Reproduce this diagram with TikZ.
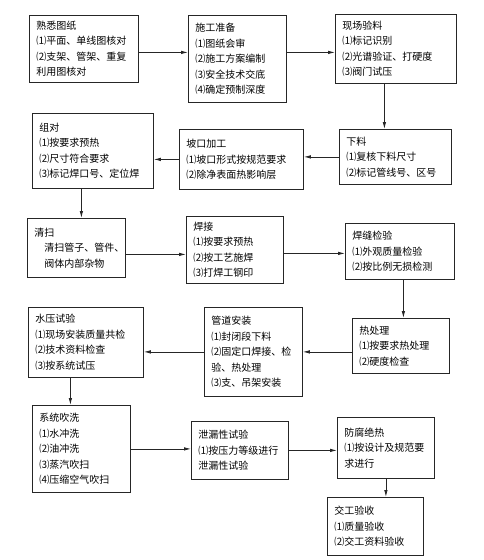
\documentclass[tikz,border=0pt]{standalone}
\usepackage{fontspec}
\newfontfamily\cjk{Noto Sans CJK SC}
\usetikzlibrary{arrows.meta,calc}

\begin{document}
\begin{tikzpicture}[x=1pt, y=-1pt]
        \tikzstyle{stepbox}=[draw=black!85, line width=0.8pt, rectangle, anchor=north west, inner xsep=7pt, inner ysep=0pt, align=left, font=\cjk\fontsize{10}{15.5}\selectfont]
        \tikzstyle{flow}=[draw=black!85, line width=0.8pt, -{Latex[length=7pt,width=3.5pt]}]
        \useasboundingbox[fill=white] (0,0) rectangle (484,560);

% The piping work flow, read row by row.

        \node[stepbox, text width=95pt, minimum height=67pt] (shuxi) at (29,15) {熟悉图纸\\⑴平面、单线图核对\\⑵支架、管架、重复\\利用图核对};
        \node[stepbox, text width=84pt, minimum height=87pt] (shigong) at (188,15) {施工准备\\⑴图纸会审\\⑵施工方案编制\\⑶安全技术交底\\⑷确定预制深度};
        \node[stepbox, text width=107pt, minimum height=69pt] (xianchang) at (335,14) {现场验料\\⑴标记识别\\⑵光谱验证、打硬度\\⑶阀门试压};

        \node[stepbox, text width=107pt, minimum height=75pt] (zudui) at (32,113) {组对\\⑴按要求预热\\⑵尺寸符合要求\\⑶标记焊口号、定位焊};
        \node[stepbox, text width=110pt, minimum height=60pt] (pokou) at (179,129) {坡口加工\\⑴坡口形式按规范要求\\⑵除净表面热影响层};
        \node[stepbox, text width=98pt, minimum height=55pt] (xialiao) at (339,129) {下料\\⑴复核下料尺寸\\⑵标记管线号、区号};

        \node[stepbox, text width=84pt, minimum height=59pt] (qingsao) at (27,218) {清扫\\\hspace*{10pt}清扫管子、管件、\\\hspace*{10pt}阀体内部杂物};
        \node[stepbox, text width=83pt, minimum height=67pt] (hanjie) at (186,216) {焊接\\⑴按要求预热\\⑵按工艺施焊\\⑶打焊工钢印};
        \node[stepbox, text width=95pt, minimum height=56pt] (hanfeng) at (345,223) {焊缝检验\\⑴外观质量检验\\⑵按比例无损检测};

        \node[stepbox, text width=101pt, minimum height=70pt] (shuiya) at (28,307) {水压试验\\⑴现场安装质量共检\\⑵技术资料检查\\⑶按系统试压};
        \node[stepbox, text width=84pt, minimum height=89pt] (guandao) at (204,307) {管道安装\\⑴封闭段下料\\⑵固定口焊接、检\\验、热处理\\⑶支、吊架安装};
        \node[stepbox, text width=83pt, minimum height=55pt] (rechuli) at (352,318) {热处理\\⑴按要求热处理\\⑵硬度检查};

        \node[stepbox, text width=84pt, minimum height=87pt] (xitong) at (32,405) {系统吹洗\\⑴水冲洗\\⑵油冲洗\\⑶蒸汽吹扫\\⑷压缩空气吹扫};
        \node[stepbox, text width=83pt, minimum height=58pt] (xielou) at (191,421) {泄漏性试验\\⑴按压力等级进行\\泄漏性试验};
        \node[stepbox, text width=83pt, minimum height=61pt] (fangfu) at (337,417) {防腐绝热\\⑴按设计及规范要\\求进行};
        \node[stepbox, text width=82pt, minimum height=58pt] (jiaogong) at (327,497) {交工验收\\⑴质量验收\\⑵交工资料验收};

        \draw[flow] ($(shuxi.east)+(0,3.5)$) -- ($(shuxi.east -| shigong.west)+(0,3.5)$);
        \draw[flow] ($(shigong.east |- xianchang.west)+(0,3.5)$) -- ($(xianchang.west)+(0,3.5)$);
        \draw[flow] ($(xianchang.south)+(-11.5,0)$) -- ($(xianchang.south |- xialiao.north)+(-11.5,0)$);
        \draw[flow] (xialiao.west) -- (xialiao.west -| pokou.east);
        \draw[flow] (pokou.west) -- (pokou.west -| zudui.east);
        \draw[flow] ($(zudui.south)+(-11.5,0)$) -- ($(zudui.south |- qingsao.north)+(-11.5,0)$);
        \draw[flow] ($(qingsao.east)+(0,6.5)$) -- ($(qingsao.east -| hanjie.west)+(0,6.5)$);
        \draw[flow] ($(hanjie.east)+(0,3.5)$) -- ($(hanjie.east -| hanfeng.west)+(0,3.5)$);
        \draw[flow] ($(hanfeng.south)+(3.5,0)$) -- ($(hanfeng.south |- rechuli.north)+(3.5,0)$);
        \draw[flow] (guandao.east -| rechuli.west) -- (guandao.east);
        \draw[flow] (guandao.west) -- (guandao.west -| shuiya.east);
        \draw[flow] ($(shuiya.south)+(-15.5,0)$) -- ($(shuiya.south |- xitong.north)+(-15.5,0)$);
        \draw[flow] (xitong.east) -- (xitong.east -| xielou.west);
        \draw[flow] (xielou.east) -- (xielou.east -| fangfu.west);
        \draw[flow] (fangfu.south) -- (fangfu.south |- jiaogong.north);

    \end{tikzpicture}
\end{document}
